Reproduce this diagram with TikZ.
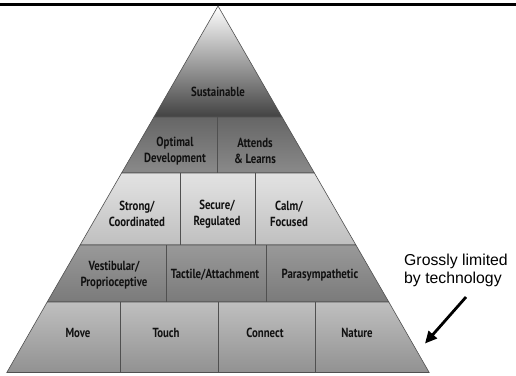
\documentclass[tikz,border=0pt]{standalone}
\usepackage{fontspec}
\setmainfont{Liberation Sans}
\newfontfamily\labfont[FakeStretch=0.82]{PT Sans}
\usetikzlibrary{arrows.meta}
\definecolor{edgegray}{HTML}{505050}
\definecolor{txtdark}{HTML}{111111}
\tikzset{
  band/.style={draw=edgegray, line width=0.6pt, shading=axis, shading angle=0},
  divider/.style={draw=edgegray, line width=0.8pt},
  lab/.style={font=\labfont\bfseries\fontsize{13.2}{16}\selectfont, text=txtdark, align=center, inner sep=0pt},
  note/.style={font=\fontsize{15.8}{17.5}\selectfont, align=left, inner sep=0pt, text=black},
}
\begin{document}
\begin{tikzpicture}[x=1pt, y=-1pt]
\useasboundingbox (0,0) rectangle (516,375);
% top rule
\draw[line width=2.6pt, black] (0,4.2) -- (516,4.2);
% bands
\path[band, top color=white, bottom color=black!74] (218,6) -- (282,117) -- (154,117) -- cycle;
\path[band, top color=black!60, bottom color=black!46] (154,117) -- (282,117) -- (314.4,173) -- (121.6,173) -- cycle;
\path[band, top color=black!11, bottom color=black!25] (121.6,173) -- (314.4,173) -- (355.9,245) -- (80.1,245) -- cycle;
\path[band, top color=black!40, bottom color=black!52] (80.1,245) -- (355.9,245) -- (388.8,302) -- (47.2,302) -- cycle;
\path[band, top color=black!25, bottom color=black!43] (47.2,302) -- (388.8,302) -- (429.2,372.5) -- (6.8,372.5) -- cycle;
% dividers
\draw[divider] (217,117) -- (217,173);
\draw[divider] (180,173) -- (180,245);
\draw[divider] (255,173) -- (255,245);
\draw[divider] (166,245) -- (166,302);
\draw[divider] (266,245) -- (266,302);
\draw[divider] (120,302) -- (120,372.5);
\draw[divider] (218,302) -- (218,372.5);
\draw[divider] (315,302) -- (315,372.5);
% labels
\node[lab] (sus) at (218,92) {Sustainable};
\node[lab] (opt) at (175,151) {Optimal\\Development};
\node[lab] (att) at (255,151) {Attends\\\& Learns};
\node[lab] (str) at (137,214) {Strong/\\Coordinated};
\node[lab] (sec) at (217,214) {Secure/\\Regulated};
\node[lab] (cal) at (289,214) {Calm/\\Focused};
\node[lab] (ves) at (114,275) {Vestibular/\\Proprioceptive};
\node[lab] (tac) at (215,275) {Tactile/Attachment};
\node[lab] (par) at (320,275) {Parasympathetic};
\node[lab] (mov) at (78,333) {Move};
\node[lab] (tou) at (166,333) {Touch};
\node[lab] (con) at (265,333) {Connect};
\node[lab] (nat) at (357,333) {Nature};
% annotation
\node[note, anchor=north west] (grl) at (404,254) {Grossly limited\\by technology};
\coordinate (arrs) at (466,297);
\coordinate (arre) at (425,343.5);
\draw[line width=2.8pt, -{Triangle[length=12pt,width=11pt]}] (arrs) -- (arre);
\end{tikzpicture}
\end{document}
